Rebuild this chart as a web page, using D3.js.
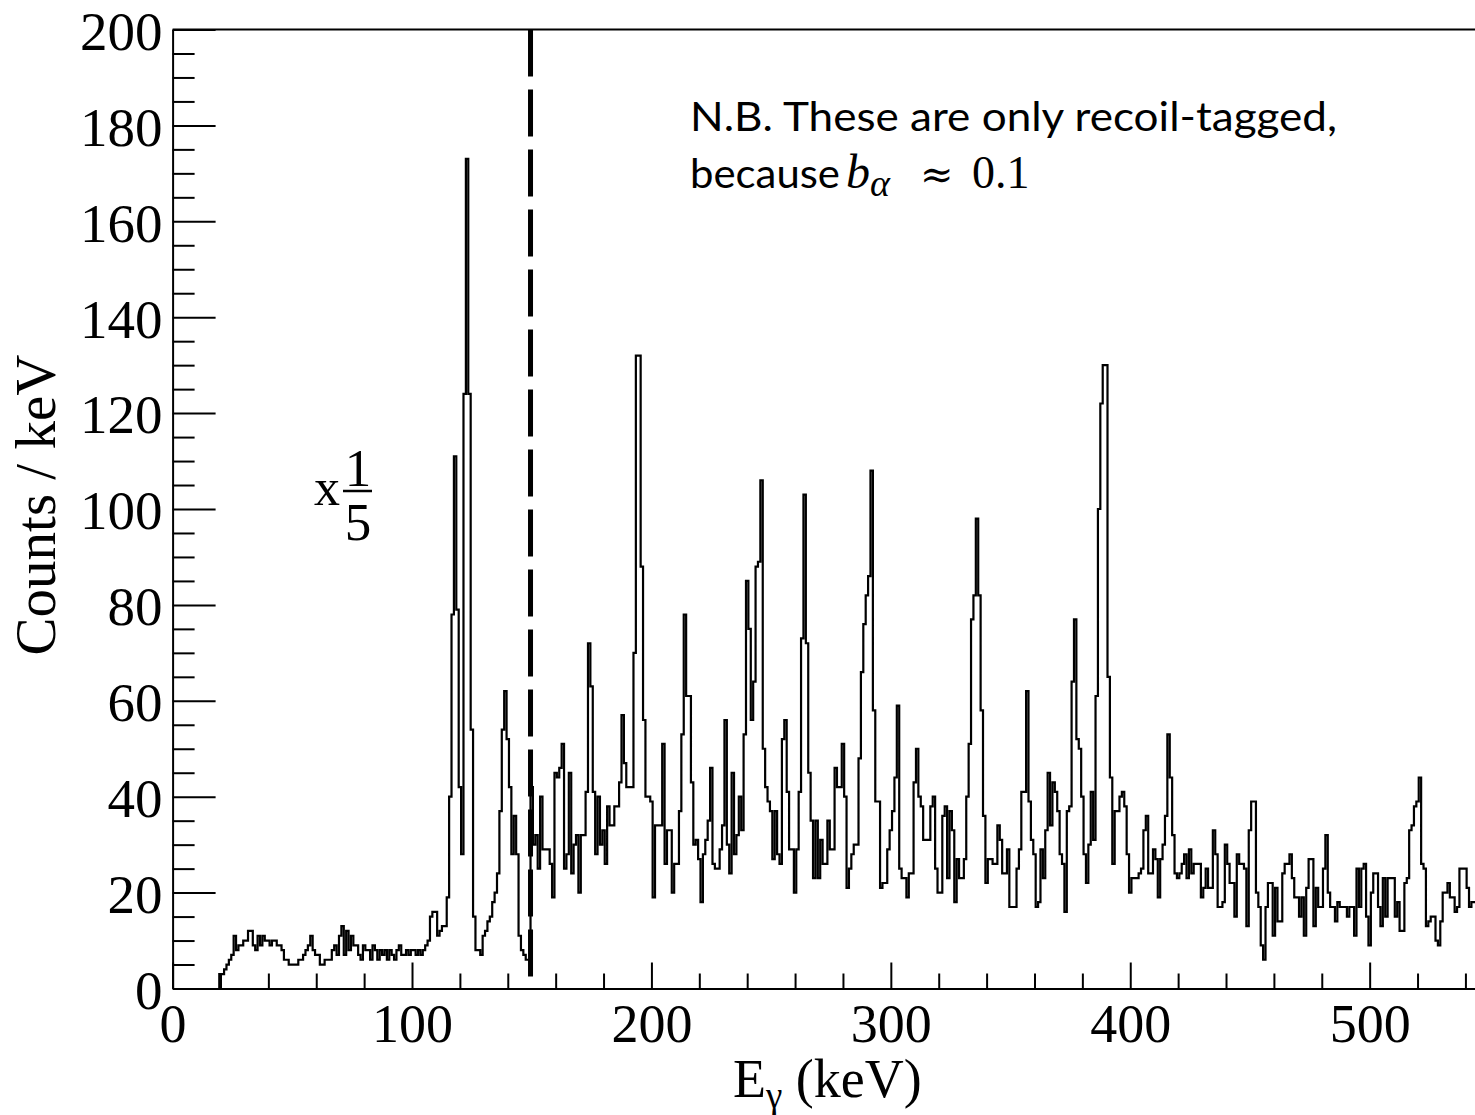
<!DOCTYPE html>
<html>
<head>
<meta charset="utf-8">
<script src="https://d3js.org/d3.v7.min.js"></script>
<style>
  body { margin: 0; background: #fff; overflow: hidden; }
</style>
</head>
<body>
<script>
// recoil-tagged gamma spectrum, counts per 1 keV bin

const binStart = 19.5;
const binWidth = 1;

const counts20to114 = [
  3,3,4,5,6,7,11,8,9,9,
  10,10,12,12,9,8,11,9,11,10,
  10,9,10,10,9,9,8,6,6,5,
  5,5,5,6,6,7,8,9,11,8,
  7,7,5,5,6,6,6,8,9,7,
  11,13,7,12,8,11,9,9,7,6,
  9,8,8,6,9,8,6,8,7,8,
  6,8,7,6,8,9,7,7,8,7,
  8,8,7,8,7,8,9,10,15,16,
  16,11,12,13,13
];

const counts115to220 = [
  19,40,78,111,79,42,28,124,173,124,
  54,15,8,8,7,11,12,14,15,18,
  20,24,37,54,62,52,42,28,36,28,
  11,8,7,6,6,42,30,32,25,40,
  29,29,29,26,19,45,44,46,51,25,
  28,45,24,30,32,20,32,32,41,72,
  63,41,28,40,30,33,26,38,34,34,
  38,38,43,57,47,42,42,42,70,132,
  132,88,56,40,40,39,19,34,34,34,
  51,26,33,33,20,26,26,37,53,78,
  61,61,43,30,31,27
];

const counts221to395 = [
  18,28,31,35,46,26,25,25,29,34,
  56,30,24,45,28,32,40,33,53,85,
  75,56,64,88,89,106,50,42,39,37,
  27,37,28,26,52,56,41,29,29,20,
  29,41,73,103,72,45,35,23,35,23,
  31,26,26,35,29,29,46,42,42,51,
  40,21,25,28,30,30,48,66,76,82,
  86,108,58,39,39,21,22,22,29,33,
  37,44,59,25,23,23,19,24,24,43,
  50,40,38,31,31,31,38,40,25,20,
  20,36,38,23,37,33,18,27,23,23,
  27,40,51,77,82,98,82,58,36,22,
  27,27,26,26,34,31,24,24,29,17,
  17,17,25,29,41,41,62,39,31,28,
  17,18,29,23,33,45,34,43,41,37,
  28,26,16,37,38,64,77,52,50,40,
  28,22,30,41,31,61,100,122,130,130,
  65,44,26,37,37
];

const counts396to544 = [
  40,41,38,28,20,23,23,23,24,25,
  33,36,24,24,29,27,19,27,30,36,
  53,44,32,24,23,24,26,28,23,29,
  24,26,26,26,19,21,25,21,21,33,
  28,17,17,18,30,26,22,22,15,28,
  26,26,25,13,33,39,39,20,17,9,
  6,17,22,22,11,21,14,14,24,26,
  26,28,23,19,19,15,19,11,21,27,
  27,13,21,17,17,25,32,20,17,17,
  14,18,17,17,17,15,17,17,11,25,
  17,25,26,15,9,20,24,24,17,13,
  23,15,23,23,23,15,18,12,12,22,
  23,33,34,38,39,44,26,25,13,14,
  15,15,10,9,14,20,20,22,19,19,
  16,17,25,25,25,21,17,18,18
];

const xMajorTicks = [0, 100, 200, 300, 400, 500];
const yMajorTicks = [0, 20, 40, 60, 80, 100, 120, 140, 160, 180, 200];
const cutEnergy = 149.5;   // dashed line

const counts = [].concat(counts20to114, counts115to220, counts221to395, counts396to544);

function displayData(){
  const width = 1475;
  const height = 1115;
  const margin = ({top: 29.5, left: 172.6, bottom: 988.5});
  const serif = 'Liberation Serif, Times New Roman, serif';

  const xScale = d3.scaleLinear()
    .domain([0, 544])
    .range([margin.left, width]);

  const yScale = d3.scaleLinear()
    .domain([0, 200])
    .range([margin.bottom, margin.top]);

  const svg = d3.select('body')
    .append('svg')
    .attr('width', width)
    .attr('height', height);

  // minor ticks
  const yMinor = d3.range(0, 201, 5).filter(v => v % 20 !== 0);
  const xMinor = d3.range(0, 541, 20).filter(v => v % 100 !== 0);

  svg.append('g')
    .attr('transform', `translate(${margin.left},0)`)
    .call(d3.axisLeft(yScale).tickValues(yMinor).tickSizeInner(-22).tickSizeOuter(0).tickFormat(''))
    .call(g => g.select('.domain').remove())
    .selectAll('line').attr('stroke-width', 2);

  svg.append('g')
    .attr('transform', `translate(0,${margin.bottom})`)
    .call(d3.axisBottom(xScale).tickValues(xMinor).tickSizeInner(-15).tickSizeOuter(0).tickFormat(''))
    .call(g => g.select('.domain').remove())
    .selectAll('line').attr('stroke-width', 2);

  // Y Axis
  const yAxis = svg.append('g')
    .attr('transform', `translate(${margin.left},0)`)
    .call(d3.axisLeft(yScale).tickValues(yMajorTicks).tickSizeInner(-43).tickSizeOuter(0).tickPadding(10))
    .attr('font-family', serif)
    .attr('font-size', 55)
    .attr('color', '#000');
  yAxis.selectAll('line').attr('stroke-width', 2);
  yAxis.select('.domain').attr('stroke-width', 2);
  yAxis.selectAll('text').attr('dy', '0.36em');

  // X Axis
  const xAxis = svg.append('g')
    .attr('transform', `translate(0,${margin.bottom})`)
    .call(d3.axisBottom(xScale).tickValues(xMajorTicks).tickSizeInner(-26).tickSizeOuter(0).tickPadding(15))
    .attr('font-family', serif)
    .attr('font-size', 54)
    .attr('color', '#000');
  xAxis.selectAll('line').attr('stroke-width', 2);
  xAxis.select('.domain').attr('stroke-width', 2);

  // top frame line
  svg.append('line')
    .attr('x1', xScale(0)).attr('x2', width)
    .attr('y1', yScale(200)).attr('y2', yScale(200))
    .attr('stroke', '#000')
    .attr('stroke-width', 2);

  // histogram
  const pts = counts.map((c, i) => ({e: binStart + i * binWidth, c: c}));
  pts.unshift({e: binStart, c: 0});
  pts.push({e: binStart + counts.length * binWidth, c: counts[counts.length - 1]});

  const line = d3.line()
    .x(d => xScale(d.e))
    .y(d => yScale(d.c))
    .curve(d3.curveStepAfter);

  svg.append('path')
    .datum(pts)
    .attr('d', line)
    .attr('fill', 'none')
    .attr('stroke', '#000')
    .attr('stroke-width', 2.2)
    .attr('stroke-linejoin', 'miter');

  // dashed cut line
  svg.append('line')
    .attr('x1', xScale(cutEnergy)).attr('x2', xScale(cutEnergy))
    .attr('y1', yScale(200)).attr('y2', yScale(0))
    .attr('stroke', '#000')
    .attr('stroke-width', 5)
    .attr('stroke-dasharray', '47,13');

  // axis titles
  svg.append('text')
    .attr('transform', 'translate(55,505) rotate(-90)')
    .attr('text-anchor', 'middle')
    .attr('font-family', serif)
    .attr('font-size', 57)
    .attr('fill', '#000')
    .text('Counts / keV');

  const xt = svg.append('text')
    .attr('x', 733)
    .attr('y', 1097)
    .attr('font-family', serif)
    .attr('font-size', 54)
    .attr('fill', '#000');
  xt.append('tspan').text('E');
  xt.append('tspan').attr('font-size', 37).attr('dy', 11).text('γ');
  xt.append('tspan').attr('dy', -11).text(' (keV)');

  // x 1/5 scale note
  svg.append('text')
    .attr('x', 314).attr('y', 505)
    .attr('font-family', serif).attr('font-size', 52)
    .attr('fill', '#000')
    .text('x');
  svg.append('text')
    .attr('x', 358).attr('y', 486)
    .attr('text-anchor', 'middle')
    .attr('font-family', serif).attr('font-size', 53)
    .attr('fill', '#000')
    .text('1');
  svg.append('line')
    .attr('x1', 343).attr('x2', 372)
    .attr('y1', 491).attr('y2', 491)
    .attr('stroke', '#000').attr('stroke-width', 2.5);
  svg.append('text')
    .attr('x', 358).attr('y', 540)
    .attr('text-anchor', 'middle')
    .attr('font-family', serif).attr('font-size', 53)
    .attr('fill', '#000')
    .text('5');

  // N.B. annotation
  svg.append('text')
    .attr('x', 690).attr('y', 131)
    .attr('font-family', 'Lato, Open Sans, sans-serif')
    .attr('font-size', 40)
    .attr('textLength', 647)
    .attr('lengthAdjust', 'spacingAndGlyphs')
    .attr('fill', '#000')
    .text('N.B. These are only recoil-tagged,');
  svg.append('text')
    .attr('x', 690).attr('y', 188)
    .attr('font-family', 'Lato, Open Sans, sans-serif')
    .attr('font-size', 40)
    .attr('textLength', 150)
    .attr('lengthAdjust', 'spacingAndGlyphs')
    .attr('fill', '#000')
    .text('because');
  svg.append('text')
    .attr('x', 846).attr('y', 188)
    .attr('font-family', serif).attr('font-style', 'italic')
    .attr('font-size', 48)
    .attr('fill', '#000')
    .text('b');
  svg.append('text')
    .attr('x', 870).attr('y', 196)
    .attr('font-family', serif).attr('font-style', 'italic')
    .attr('font-size', 38)
    .attr('fill', '#000')
    .text('α');
  svg.append('text')
    .attr('x', 920).attr('y', 188)
    .attr('font-family', 'DejaVu Serif, serif')
    .attr('font-size', 40)
    .attr('fill', '#000')
    .text('≈');
  svg.append('text')
    .attr('x', 972).attr('y', 188)
    .attr('font-family', serif)
    .attr('font-size', 46)
    .attr('fill', '#000')
    .text('0.1');
}

displayData();
</script>
</body>
</html>
